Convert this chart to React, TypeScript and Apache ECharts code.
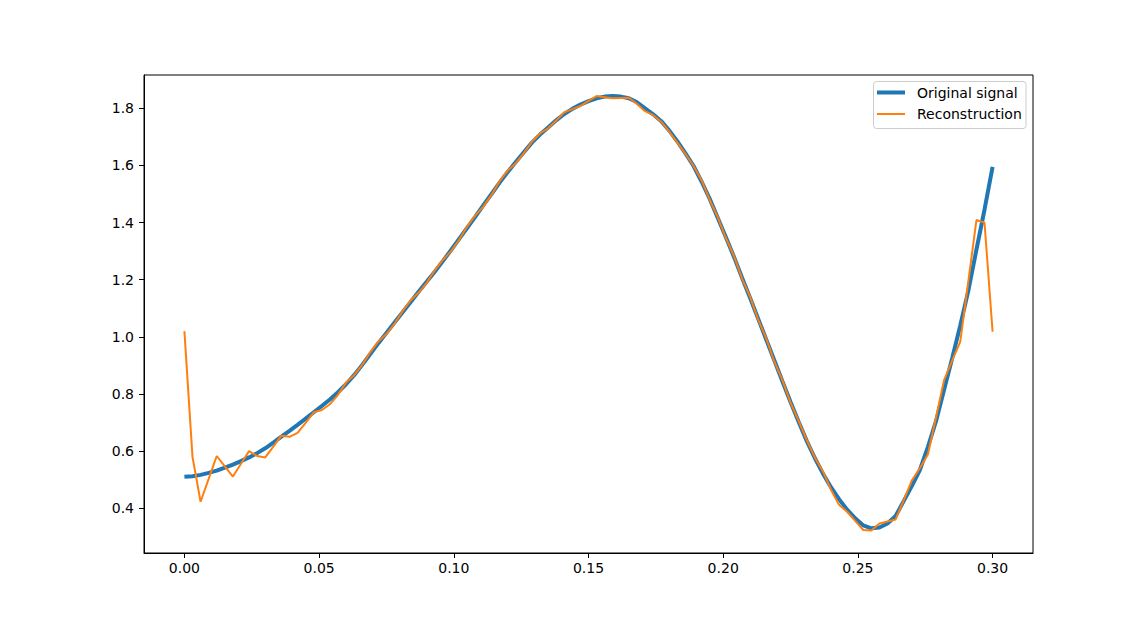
import React, { useEffect, useRef } from "react";
import * as echarts from "echarts";

// Sampling step of the signal (seconds) and sample count
const SAMPLE_STEP = 0.003;
const SAMPLE_COUNT = 101;

const originalSignal = [
  0.510, 0.512, 0.517, 0.524, 0.532, 0.542, 0.553, 0.565, 0.578, 0.593,
  0.610, 0.630, 0.651, 0.671, 0.692, 0.714, 0.736, 0.758, 0.781, 0.806,
  0.834, 0.866, 0.902, 0.940, 0.978, 1.014, 1.050, 1.086, 1.122, 1.159,
  1.194, 1.229, 1.266, 1.304, 1.343, 1.382, 1.421, 1.461, 1.500, 1.540,
  1.577, 1.612, 1.646, 1.680, 1.708, 1.733, 1.758, 1.780, 1.798, 1.813,
  1.825, 1.835, 1.841, 1.843, 1.841, 1.835, 1.821, 1.800, 1.779, 1.755,
  1.722, 1.684, 1.642, 1.598, 1.543, 1.483, 1.416, 1.349, 1.280, 1.207,
  1.136, 1.063, 0.990, 0.917, 0.844, 0.772, 0.703, 0.636, 0.576, 0.522,
  0.474, 0.432, 0.395, 0.365, 0.340, 0.330, 0.333, 0.347, 0.373, 0.425,
  0.478, 0.534, 0.615, 0.705, 0.815, 0.925, 1.040, 1.162, 1.305, 1.445,
  1.595,
];

const reconstruction = [
  1.020, 0.580, 0.423, 0.503, 0.583, 0.547, 0.511, 0.556, 0.600, 0.583,
  0.578, 0.616, 0.654, 0.650, 0.664, 0.699, 0.736, 0.744, 0.764, 0.797,
  0.840, 0.866, 0.902, 0.946, 0.984, 1.010, 1.046, 1.090, 1.128, 1.155,
  1.190, 1.234, 1.270, 1.300, 1.340, 1.387, 1.425, 1.457, 1.497, 1.545,
  1.582, 1.608, 1.643, 1.683, 1.712, 1.730, 1.757, 1.786, 1.797, 1.808,
  1.826, 1.843, 1.839, 1.835, 1.836, 1.837, 1.815, 1.790, 1.776, 1.753,
  1.718, 1.680, 1.640, 1.598, 1.547, 1.480, 1.418, 1.346, 1.283, 1.204,
  1.140, 1.060, 0.994, 0.913, 0.848, 0.770, 0.706, 0.639, 0.578, 0.530,
  0.465, 0.412, 0.388, 0.356, 0.324, 0.322, 0.347, 0.354, 0.361, 0.428,
  0.497, 0.540, 0.589, 0.718, 0.849, 0.917, 0.983, 1.195, 1.409, 1.400,
  1.018,
];

const xTicks = [0, 0.05, 0.1, 0.15, 0.2, 0.25, 0.3];
const yTicks = [0.4, 0.6, 0.8, 1.0, 1.2, 1.4, 1.6, 1.8];

const seriesNames = ["Original signal", "Reconstruction"];
const seriesColors = ["#1f77b4", "#ff7f0e"];

const FONT = '"DejaVu Sans", sans-serif';

export default function App() {
  const ref = useRef<HTMLDivElement>(null);

  useEffect(() => {
    if (!ref.current) return;
    const chart = echarts.init(ref.current, null, { renderer: "svg" });

    const times: number[] = [];
    for (let i = 0; i < SAMPLE_COUNT; i++) times.push(+(i * SAMPLE_STEP).toFixed(6));
    const origData = originalSignal.map((v, i) => [times[i], v]);
    const recData = reconstruction.map((v, i) => [times[i], v]);

    chart.setOption({
      animation: false,
      backgroundColor: "#ffffff",
      grid: {
        left: 144,
        right: 115,
        top: 75,
        bottom: 68,
        show: true,
        borderColor: "#000000",
        borderWidth: 1,
        backgroundColor: "transparent",
      },
      xAxis: {
        type: "value",
        position: "bottom",
        min: -0.015,
        max: 0.315,
        axisLine: { show: true, onZero: false, lineStyle: { color: "#000000", width: 1 } },
        splitLine: { show: false },
        axisTick: {
          show: true,
          length: 5,
          inside: false,
          customValues: xTicks,
          lineStyle: { color: "#000000", width: 1 },
        },
        axisLabel: {
          customValues: xTicks,
          margin: 8,
          color: "#000000",
          fontSize: 14,
          fontFamily: FONT,
          formatter: (v: number) => v.toFixed(2),
        },
      },
      yAxis: {
        type: "value",
        position: "left",
        min: 0.2435,
        max: 1.9166,
        axisLine: { show: true, onZero: false, lineStyle: { color: "#000000", width: 1 } },
        splitLine: { show: false },
        axisTick: {
          show: true,
          length: 5,
          inside: false,
          customValues: yTicks,
          lineStyle: { color: "#000000", width: 1 },
        },
        axisLabel: {
          customValues: yTicks,
          margin: 10,
          color: "#000000",
          fontSize: 14,
          fontFamily: FONT,
          formatter: (v: number) => v.toFixed(1),
        },
      },
      series: [
        {
          name: seriesNames[0],
          type: "line",
          data: origData,
          showSymbol: false,
          symbol: "none",
          lineStyle: { color: seriesColors[0], width: 4 },
          itemStyle: { color: seriesColors[0] },
          z: 2,
        },
        {
          name: seriesNames[1],
          type: "line",
          data: recData,
          showSymbol: false,
          symbol: "none",
          lineStyle: { color: seriesColors[1], width: 2 },
          itemStyle: { color: seriesColors[1] },
          z: 3,
        },
      ],
      graphic: [
        {
          type: "rect",
          z: 100,
          shape: { x: 873.5, y: 81.5, width: 152.5, height: 47, r: 3 },
          style: { fill: "rgba(255,255,255,0.8)", stroke: "#cccccc", lineWidth: 1 },
        },
        {
          type: "line",
          z: 101,
          shape: { x1: 877, y1: 92.5, x2: 905, y2: 92.5 },
          style: { stroke: seriesColors[0], lineWidth: 4 },
        },
        {
          type: "line",
          z: 101,
          shape: { x1: 877, y1: 114, x2: 905, y2: 114 },
          style: { stroke: seriesColors[1], lineWidth: 2 },
        },
        {
          type: "text",
          z: 101,
          style: {
            text: seriesNames[0],
            x: 917,
            y: 92.5,
            fill: "#000000",
            font: `14px ${FONT}`,
            verticalAlign: "middle",
            align: "left",
          },
        },
        {
          type: "text",
          z: 101,
          style: {
            text: seriesNames[1],
            x: 917,
            y: 114,
            fill: "#000000",
            font: `14px ${FONT}`,
            verticalAlign: "middle",
            align: "left",
          },
        },
      ],
    });

    return () => chart.dispose();
  }, []);

  return (
    <div
      ref={ref}
      style={{ position: "absolute", left: 0, top: 0, width: 1148, height: 621 }}
    />
  );
}
